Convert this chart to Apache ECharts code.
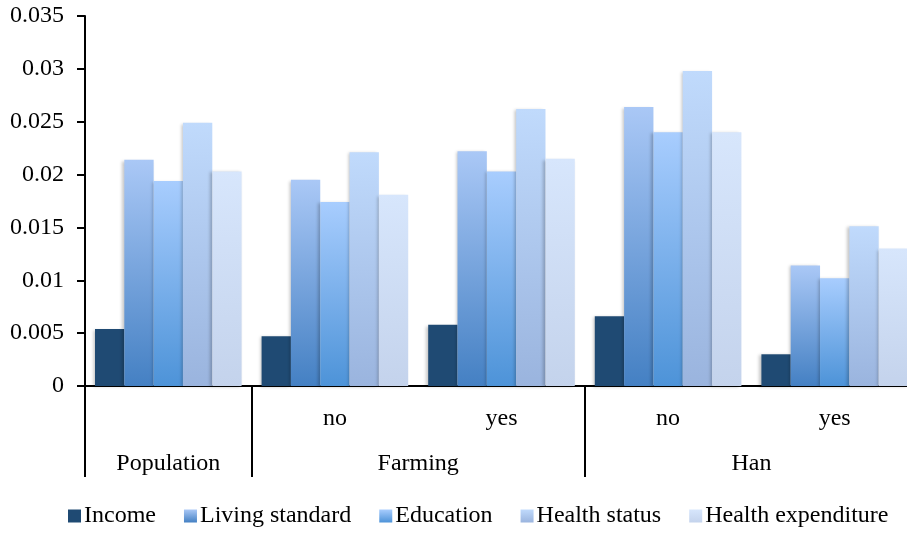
<!DOCTYPE html>
<html>
<head>
<meta charset="utf-8">
<script src="https://cdn.jsdelivr.net/npm/echarts@6/dist/echarts.min.js"></script>
<style>html,body{margin:0;padding:0;background:#fff}#c{width:907px;height:534px}</style>
</head>
<body>
<div id="c"></div>
<script>
// Data
var subCategories = ['', 'no', 'yes', 'no', 'yes'];
var groupLabels = ['Population', 'Farming', 'Han'];
var groupCenters = [0.5, 2, 4];
var groupBoundaries = [0, 1, 3, 5];
var seriesNames = ['Income', 'Living standard', 'Education', 'Health status', 'Health expenditure'];
var income = [0.0054, 0.0047, 0.0058, 0.0066, 0.0030];
var livingStandard = [0.0214, 0.0195, 0.0222, 0.0264, 0.0114];
var education = [0.0194, 0.0174, 0.0203, 0.0240, 0.0102];
var healthStatus = [0.0249, 0.0221, 0.0262, 0.0298, 0.0151];
var healthExpenditure = [0.0203, 0.0181, 0.0215, 0.0240, 0.0130];
var yTicks = [0, 0.005, 0.01, 0.015, 0.02, 0.025, 0.03, 0.035];

var values = [income, livingStandard, education, healthStatus, healthExpenditure];
var colors = [
  ['#1F4A73', '#1F4A73'],
  ['#AAC8F6', '#4480C3'],
  ['#A8CDFE', '#4D93D8'],
  ['#C0DAFC', '#9AB4DE'],
  ['#D7E6FC', '#C4D3EC']
];
function grad(c) {
  return new echarts.graphic.LinearGradient(0, 0, 0, 1, [
    {offset: 0, color: c[0]}, {offset: 1, color: c[1]}
  ]);
}
var FONT = 'Liberation Serif';
var FS = 24;
var chart = echarts.init(document.getElementById('c'), null, {renderer: 'canvas'});
var series = seriesNames.map(function (n, i) {
  return {
    name: n,
    type: 'bar',
    xAxisIndex: 0,
    yAxisIndex: 0,
    data: values[i],
    barGap: '0%',
    barCategoryGap: '12%',
    itemStyle: {
      color: grad(colors[i]),
      shadowColor: 'rgba(0,0,0,0.22)',
      shadowBlur: 3,
      shadowOffsetX: -2,
      shadowOffsetY: 1
    },
    emphasis: {disabled: true}
  };
});
chart.setOption({
  animation: false,
  backgroundColor: '#fff',
  textStyle: {fontFamily: FONT},
  grid: {left: 85, top: 16, bottom: 148, right: -11, containLabel: false, outerBoundsMode: 'none'},
  legend: {
    data: seriesNames,
    left: 68,
    top: 504,
    padding: 0,
    itemWidth: 13,
    itemHeight: 13,
    itemGap: 28,
    icon: 'rect',
    textStyle: {fontFamily: FONT, fontSize: FS, color: '#000', padding: [0, 0, 0, -2]}
  },
  xAxis: [
    {
      type: 'category',
      data: subCategories,
      position: 'bottom',
      axisLine: {show: true, onZero: false, lineStyle: {color: '#000', width: 2}},
      axisTick: {show: false},
      axisLabel: {fontFamily: FONT, fontSize: FS, color: '#000', margin: 21, interval: 0},
      splitLine: {show: false}
    },
    {
      type: 'value',
      min: 0,
      max: 5,
      position: 'bottom',
      axisLine: {show: false},
      axisTick: {show: true, inside: false, length: 91, customValues: groupBoundaries,
                 lineStyle: {color: '#000', width: 2}},
      axisLabel: {
        show: true, customValues: groupCenters, fontFamily: FONT, fontSize: FS, color: '#000', margin: 66,
        formatter: function (v) {
          var k = groupCenters.indexOf(v);
          return k >= 0 ? groupLabels[k] : '';
        }
      },
      splitLine: {show: false}
    }
  ],
  yAxis: {
    type: 'value',
    min: 0,
    max: 0.035,
    interval: 0.005,
    axisLine: {show: true, lineStyle: {color: '#000', width: 2}},
    axisTick: {show: true, inside: false, length: 8, lineStyle: {color: '#000', width: 2}},
    axisLabel: {
      fontFamily: FONT, fontSize: FS, color: '#000', margin: 21,
      formatter: function (v) {
        for (var i = 0; i < yTicks.length; i++) {
          if (Math.abs(yTicks[i] - v) < 1e-9) return String(yTicks[i]);
        }
        return '';
      }
    },
    splitLine: {show: false}
  },
  series: series
});
</script>
</body>
</html>
